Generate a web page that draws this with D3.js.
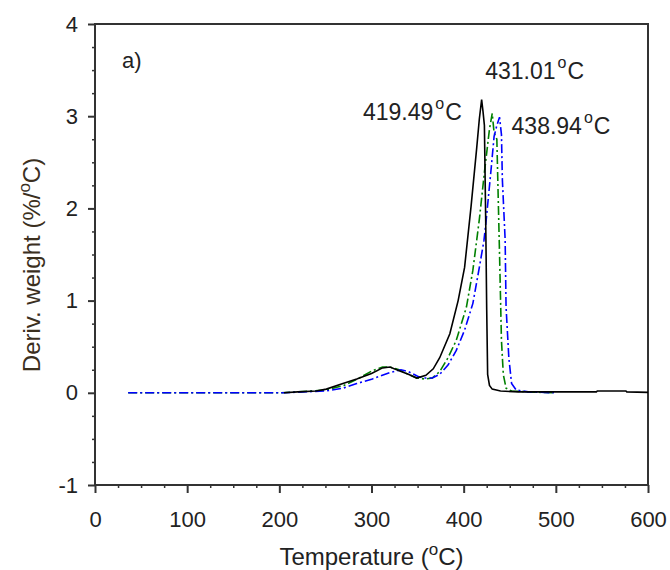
<!DOCTYPE html>
<html>
<head>
<meta charset="utf-8">
<script src="https://cdn.jsdelivr.net/npm/d3@7"></script>
<style>
  body { margin: 0; background: #fff; }
  text { font-family: "Liberation Sans", Arial, sans-serif; fill: #222; }
</style>
</head>
<body>
<div id="chart"></div>
<script>
const w = 670, h = 570;

// DTG curves: [temperature (°C), deriv. weight (%/°C)]
const blackCurve = [[205,0],[220,0.01],[240,0.02],[251,0.04],[269,0.1],[284,0.15],[300,0.21],[312,0.27],[320,0.28],[330,0.24],[340,0.2],[349,0.16],[359,0.19],[367,0.26],[374,0.38],[385,0.64],[394,1.0],[401,1.36],[408,2.02],[414,2.64],[417,2.97],[419.5,3.18],[421,3.05],[422.5,2.9],[424,1.8],[425,0.9],[426,0.2],[428,0.08],[431,0.04],[440,0.02],[460,0.01],[500,0.01],[544,0.01],[545,0.02],[576,0.02],[577,0.01],[600,0.005]];
const greenCurve = [[36,0],[200,0],[220,0.01],[250,0.03],[270,0.08],[285,0.15],[301,0.24],[312,0.28],[320,0.28],[330,0.25],[340,0.2],[349,0.16],[358,0.15],[366,0.16],[374,0.23],[383,0.38],[392,0.57],[403,0.93],[410,1.33],[417,1.88],[422.5,2.39],[428,2.86],[431,3.03],[433,2.82],[436,2.75],[439,1.47],[441,0.57],[443,0.2],[446,0.05],[452,0.02],[470,0.01],[498,0]];
const blueCurve = [[36,0],[205,0],[225,0.01],[251,0.02],[269,0.05],[284,0.1],[301,0.15],[320,0.22],[332,0.25],[340,0.23],[350,0.18],[356,0.16],[366,0.16],[374,0.2],[383,0.3],[392,0.46],[401,0.68],[410,0.97],[417,1.36],[422,1.65],[424.5,1.88],[430,2.45],[433,2.78],[436,2.9],[438.9,2.99],[441,2.8],[442,2.31],[445,1.66],[446,0.93],[449,0.38],[452,0.1],[457,0.03],[470,0.01],[498,0]];

const xTicks = [0, 100, 200, 300, 400, 500, 600];
const yTicks = [-1, 0, 1, 2, 3, 4];
const peakLabels = [
  { t: 419.49, v: 3.18, text: '419.49' },
  { t: 431.01, v: 3.03, text: '431.01' },
  { t: 438.94, v: 2.99, text: '438.94' }
];

const mLeft = 95, mRight = 648, mTop = 24, mBottom = 485;

const x = d3.scaleLinear().domain([0, 600]).range([mLeft, mRight]);
const y = d3.scaleLinear().domain([-1, 4]).range([mBottom, mTop]);

const svg = d3.select('#chart')
  .append('svg')
  .attr('width', w)
  .attr('height', h);

// minor ticks
const xMinor = d3.range(0, 601, 25).filter(d => d % 100 !== 0);
const yMinor = d3.range(-1, 4.001, 0.25).filter(d => Math.abs(d - Math.round(d)) > 0.01);

svg.append('g')
  .attr('transform', 'translate(0,' + mBottom + ')')
  .call(d3.axisBottom(x).tickValues(xMinor).tickSize(3).tickFormat(''))
  .call(g => g.select('.domain').remove())
  .selectAll('line').attr('stroke', '#333').attr('stroke-width', 1.5);

svg.append('g')
  .attr('transform', 'translate(' + mLeft + ',0)')
  .call(d3.axisLeft(y).tickValues(yMinor).tickSize(3).tickFormat(''))
  .call(g => g.select('.domain').remove())
  .selectAll('line').attr('stroke', '#333').attr('stroke-width', 1.5);

// major axes
const xAxis = svg.append('g')
  .attr('transform', 'translate(0,' + mBottom + ')')
  .call(d3.axisBottom(x).tickValues(xTicks).tickSize(8).tickPadding(18).tickSizeOuter(0).tickFormat(d => String(d)));
xAxis.select('.domain').remove();
xAxis.selectAll('line').attr('stroke', '#333').attr('stroke-width', 2);
xAxis.selectAll('text').attr('font-size', '22px').style('font-family', '"Liberation Sans", Arial, sans-serif').attr('fill', '#222');

const yAxis = svg.append('g')
  .attr('transform', 'translate(' + mLeft + ',0)')
  .call(d3.axisLeft(y).tickValues(yTicks).tickSize(7).tickPadding(10).tickSizeOuter(0).tickFormat(d => String(d)));
yAxis.select('.domain').remove();
yAxis.selectAll('line').attr('stroke', '#333').attr('stroke-width', 2);
yAxis.selectAll('text').attr('font-size', '22px').style('font-family', '"Liberation Sans", Arial, sans-serif').attr('fill', '#222');

// frame
svg.append('rect')
  .attr('x', mLeft)
  .attr('y', mTop)
  .attr('width', mRight - mLeft)
  .attr('height', mBottom - mTop)
  .attr('fill', 'none')
  .attr('stroke', '#333')
  .attr('stroke-width', 2);

// curves
const line = d3.line()
  .x(d => x(d[0]))
  .y(d => y(d[1]));

const series = [
  { data: greenCurve, color: '#008000', dash: '9,3,2,3' },
  { data: blueCurve, color: '#0000ff', dash: '9,3,2,3' },
  { data: blackCurve, color: '#000000', dash: null }
];

svg.selectAll('.curve')
  .data(series)
  .enter()
  .append('path')
  .attr('class', 'curve')
  .attr('d', d => line(d.data))
  .attr('fill', 'none')
  .attr('stroke', d => d.color)
  .attr('stroke-width', 1.6)
  .attr('stroke-dasharray', d => d.dash);

// peak labels with superscript o
const labelPos = [
  { dx: 0, dy: 20 },
  { dx: -7, dy: -34 },
  { dx: 12, dy: 17 }
];

peakLabels.forEach((p, i) => {
  const t = svg.append('text')
    .attr('x', i === 0 ? 363 : x(p.t) + labelPos[i].dx)
    .attr('y', y(p.v) + labelPos[i].dy)
    .attr('font-size', '23px');
  t.append('tspan').text(p.text);
  t.append('tspan').attr('dx', 2).attr('dy', -11).attr('font-size', '16px').text('o');
  t.append('tspan').attr('dx', 1).attr('dy', 11).text('C');
});

svg.append('text')
  .attr('x', 122)
  .attr('y', 68)
  .attr('font-size', '22px')
  .text('a)');

// axis titles
const xTitle = svg.append('text')
  .attr('x', (mLeft + mRight) / 2)
  .attr('y', 565)
  .attr('text-anchor', 'middle')
  .attr('font-size', '24px');
xTitle.append('tspan').text('Temperature (');
xTitle.append('tspan').attr('dy', -10).attr('font-size', '17px').text('o');
xTitle.append('tspan').attr('dy', 10).text('C)');

const yTitle = svg.append('text')
  .attr('transform', 'translate(40,265) rotate(-90)')
  .attr('text-anchor', 'middle')
  .attr('font-size', '24px')
  .style('fill', '#3b2f1e');
yTitle.append('tspan').text('Deriv. weight (%/');
yTitle.append('tspan').attr('dy', -10).attr('font-size', '17px').text('o');
yTitle.append('tspan').attr('dy', 10).text('C)');
</script>
</body>
</html>
